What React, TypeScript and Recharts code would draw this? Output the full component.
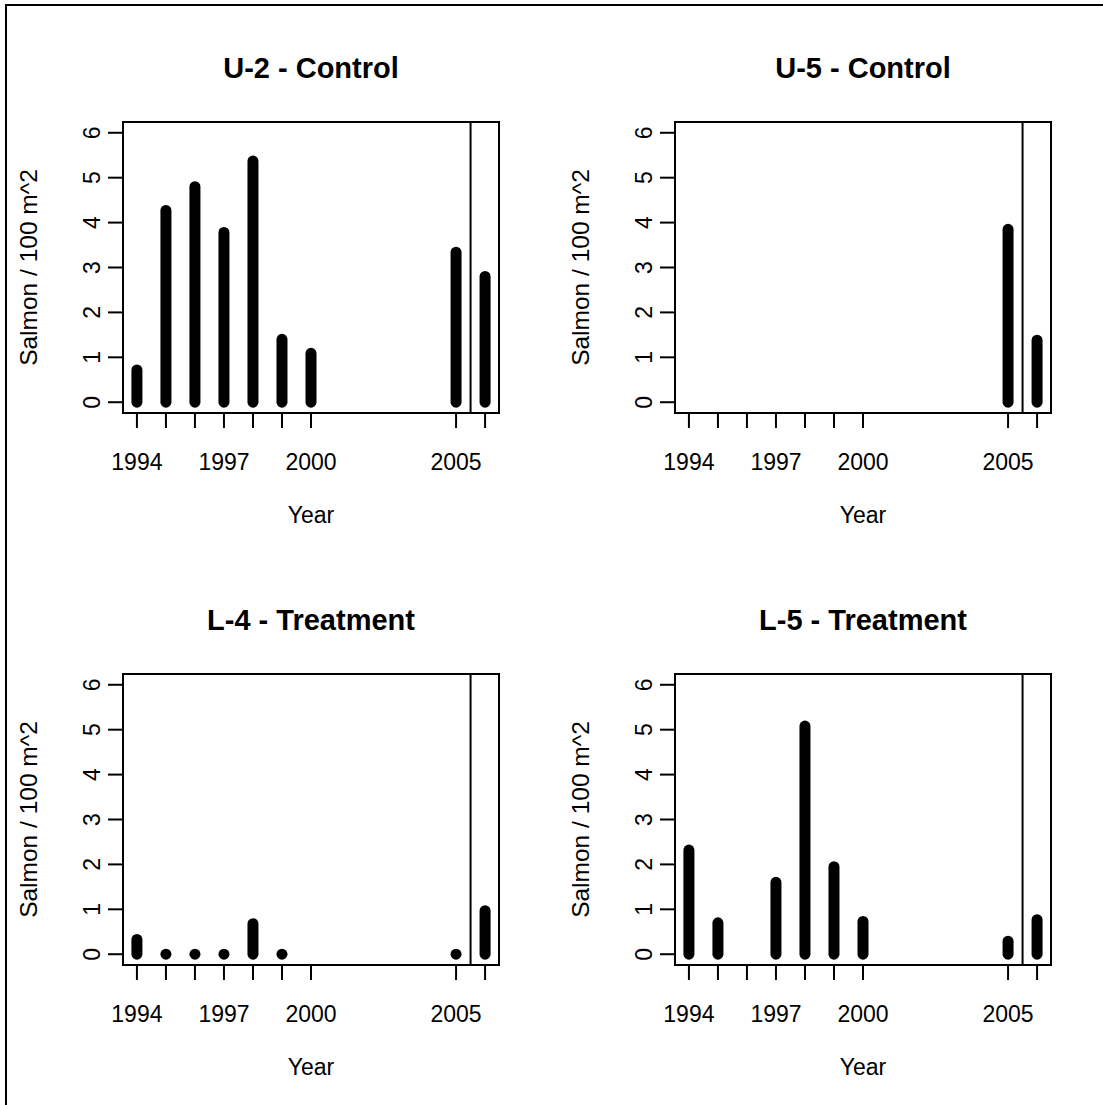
import React from 'react';
import { ComposedChart, Bar, XAxis, YAxis, ReferenceArea, ReferenceLine } from 'recharts';

const FONT = '"Liberation Sans", Arial, Helvetica, sans-serif';

// x axis: every survey year gets a tick, only some get a label
const yearTicks = [1994, 1995, 1996, 1997, 1998, 1999, 2000, 2005, 2006];
const yearLabels = [1994, 1997, 2000, 2005];
const salmonTicks = [0, 1, 2, 3, 4, 5, 6];

// salmon density per site (fish / 100 m^2)
const u2Years = [1994, 1995, 1996, 1997, 1998, 1999, 2000, 2005, 2006];
const u2Salmon = [0.72, 4.27, 4.8, 3.78, 5.37, 1.4, 1.09, 3.34, 2.8];

const u5Years = [2005, 2006];
const u5Salmon = [3.85, 1.38];

const l4Years = [1994, 1995, 1996, 1997, 1998, 1999, 2005, 2006];
const l4Salmon = [0.33, 0, 0, 0, 0.68, 0, 0, 0.97];

const l5Years = [1994, 1995, 1997, 1998, 1999, 2000, 2005, 2006];
const l5Salmon = [2.32, 0.7, 1.6, 5.08, 1.95, 0.73, 0.29, 0.77];

const X_DOMAIN: [number, number] = [1993.52, 2006.48];
const Y_DOMAIN: [number, number] = [-0.24, 6.24];
const BREAK_YEAR = 2005.5;

const CELL = 552;
const MARGIN = { top: 122, right: 53, bottom: 79, left: 0 };
const Y_AXIS_W = 123;
const X_AXIS_H = 60;
const LINE_W = 11;

const toRows = (years: number[], values: number[]) =>
  years.map((year, i) => ({ year, salmon: values[i] }));

// thick vertical stroke with round ends, like a type="h" plot
function SalmonBar(props: any) {
  const { x, y, width, height } = props;
  if (x == null || y == null) return null;
  const cx = x + width / 2;
  const top = Math.min(y, y + height);
  const h = Math.abs(height || 0);
  const r = LINE_W / 2;
  return <rect x={cx - r} y={top - r} width={LINE_W} height={h + LINE_W} rx={r} ry={r} fill="#000" />;
}

function YearTick(props: any) {
  const { x, y, payload } = props;
  if (!yearLabels.includes(payload.value)) return <g />;
  return (
    <text x={x} y={y + 40} textAnchor="middle" fontSize={23} fontFamily={FONT} fill="#000">
      {payload.value}
    </text>
  );
}

function SalmonTick(props: any) {
  const { x, y, payload } = props;
  return (
    <text
      x={x}
      y={y}
      transform={`rotate(-90 ${x} ${y})`}
      textAnchor="middle"
      fontSize={23}
      fontFamily={FONT}
      fill="#000"
    >
      {payload.value}
    </text>
  );
}

interface PanelProps {
  title: string;
  data: { year: number; salmon: number }[];
  left: number;
  top: number;
}

function SitePanel({ title, data, left, top }: PanelProps) {
  const plotLeft = MARGIN.left + Y_AXIS_W;
  const plotRight = CELL - MARGIN.right;
  const plotTop = MARGIN.top;
  const plotBottom = CELL - MARGIN.bottom - X_AXIS_H;
  const midX = (plotLeft + plotRight) / 2;
  const midY = (plotTop + plotBottom) / 2;

  return (
    <div style={{ position: 'absolute', left, top, width: CELL, height: CELL }}>
      <ComposedChart width={CELL} height={CELL} data={data} margin={MARGIN}>
        <XAxis
          type="number"
          dataKey="year"
          domain={X_DOMAIN}
          ticks={yearTicks}
          interval={0}
          allowDataOverflow
          height={X_AXIS_H}
          tickSize={15}
          tickMargin={2}
          axisLine={false}
          tickLine={{ stroke: '#000', strokeWidth: 2 }}
          tick={YearTick}
        />
        <YAxis
          type="number"
          domain={Y_DOMAIN}
          ticks={salmonTicks}
          interval={0}
          allowDataOverflow
          width={Y_AXIS_W}
          tickSize={15}
          tickMargin={8}
          axisLine={false}
          tickLine={{ stroke: '#000', strokeWidth: 2 }}
          tick={SalmonTick}
        />
        <Bar dataKey="salmon" barSize={LINE_W} shape={SalmonBar} isAnimationActive={false} />
        <ReferenceLine x={BREAK_YEAR} stroke="#000" strokeWidth={2} />
        <ReferenceArea
          x1={X_DOMAIN[0]}
          x2={X_DOMAIN[1]}
          y1={Y_DOMAIN[0]}
          y2={Y_DOMAIN[1]}
          fill="none"
          fillOpacity={0}
          stroke="#000"
          strokeWidth={2}
          strokeOpacity={1}
        />
      </ComposedChart>
      <svg
        width={CELL}
        height={CELL}
        style={{ position: 'absolute', left: 0, top: 0, pointerEvents: 'none' }}
      >
        <text x={midX} y={78} textAnchor="middle" fontSize={29} fontWeight="bold" fontFamily={FONT} fill="#000">
          {title}
        </text>
        <text x={midX} y={523} textAnchor="middle" fontSize={23} fontFamily={FONT} fill="#000">
          Year
        </text>
        <text
          x={37}
          y={midY}
          transform={`rotate(-90 37 ${midY})`}
          textAnchor="middle"
          fontSize={24.5}
          fontFamily={FONT}
          fill="#000"
        >
          Salmon / 100 m^2
        </text>
      </svg>
    </div>
  );
}

export default function App() {
  return (
    <div
      style={{
        position: 'absolute',
        left: 0,
        top: 0,
        width: 1103,
        height: 1105,
        background: '#fff',
        overflow: 'hidden',
      }}
    >
      {/* figure frame: top and left edges */}
      <div style={{ position: 'absolute', left: 5, top: 4, width: 1098, height: 2, background: '#000' }} />
      <div style={{ position: 'absolute', left: 5, top: 4, width: 2, height: 1101, background: '#000' }} />

      <SitePanel title="U-2 - Control" data={toRows(u2Years, u2Salmon)} left={0} top={0} />
      <SitePanel title="U-5 - Control" data={toRows(u5Years, u5Salmon)} left={CELL} top={0} />
      <SitePanel title="L-4 - Treatment" data={toRows(l4Years, l4Salmon)} left={0} top={CELL} />
      <SitePanel title="L-5 - Treatment" data={toRows(l5Years, l5Salmon)} left={CELL} top={CELL} />
    </div>
  );
}
